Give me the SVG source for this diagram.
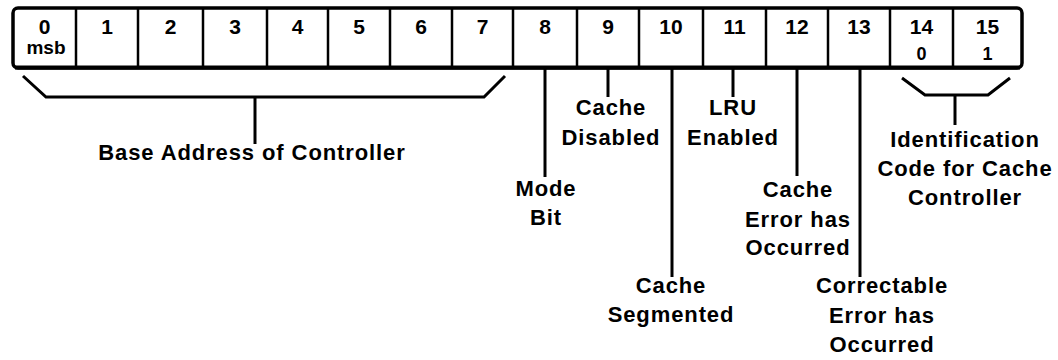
<svg xmlns="http://www.w3.org/2000/svg" width="1058" height="360" viewBox="0 0 1058 360">
<style>
text{font-family:"Liberation Sans",Arial,sans-serif;font-weight:bold;fill:#000;text-anchor:middle}
.num{font-size:21px}
.sub{font-size:18px}
.lbl{font-size:22px;letter-spacing:0.9px}
.div{stroke:#000;stroke-width:2.5}
.ln{stroke:#000;stroke-width:3;fill:none;stroke-linejoin:miter}
</style>
<rect width="1058" height="360" fill="#fff"/>
<g id="register">
<rect x="13" y="8" width="1009" height="60" rx="5" fill="#fff" stroke="#000" stroke-width="3.5"/>
<line x1="15" y1="67.5" x2="1020" y2="67.5" stroke="#000" stroke-width="4"/>
<g class="div">
<line x1="76" y1="8" x2="76" y2="68"/><line x1="138" y1="8" x2="138" y2="68"/><line x1="203" y1="8" x2="203" y2="68"/><line x1="267" y1="8" x2="267" y2="68"/><line x1="328" y1="8" x2="328" y2="68"/><line x1="390" y1="8" x2="390" y2="68"/><line x1="452" y1="8" x2="452" y2="68"/><line x1="513" y1="8" x2="513" y2="68"/><line x1="577" y1="8" x2="577" y2="68"/><line x1="639" y1="8" x2="639" y2="68"/><line x1="703" y1="8" x2="703" y2="68"/><line x1="766" y1="8" x2="766" y2="68"/><line x1="828" y1="8" x2="828" y2="68"/><line x1="890" y1="8" x2="890" y2="68"/><line x1="953" y1="8" x2="953" y2="68"/>
</g>
<g class="num">
<text x="44.5" y="34">0</text><text x="107" y="34">1</text><text x="170.5" y="34">2</text><text x="235" y="34">3</text><text x="297.5" y="34">4</text><text x="359" y="34">5</text><text x="421" y="34">6</text><text x="482.5" y="34">7</text><text x="545" y="34">8</text><text x="608" y="34">9</text><text x="671" y="34">10</text><text x="734.5" y="34">11</text><text x="797" y="34">12</text><text x="859" y="34">13</text><text x="921.5" y="34">14</text><text x="987.5" y="34">15</text>
</g>
<text class="sub" x="46" y="54" style="font-size:19px">msb</text>
<text class="sub" x="921.5" y="60">0</text>
<text class="sub" x="987.5" y="60">1</text>
</g>
<g id="connectors" class="ln">
<polyline points="23,76 46,97 484,97 505,76"/>
<line x1="255" y1="97" x2="255" y2="144"/>
<line x1="545" y1="68" x2="545" y2="177"/>
<line x1="608" y1="68" x2="608" y2="97"/>
<line x1="672" y1="68" x2="672" y2="277"/>
<line x1="733" y1="68" x2="733" y2="97"/>
<line x1="797" y1="68" x2="797" y2="176"/>
<line x1="860" y1="68" x2="860" y2="277"/>
<polyline points="902,78 925,95 988,95 1010,78"/>
<line x1="955" y1="95" x2="955" y2="125"/>
</g>
<g id="label-base"><text class="lbl" x="252" y="160">Base Address of Controller</text></g>
<g id="label-mode"><text class="lbl" x="546" y="196">Mode</text><text class="lbl" x="546" y="225">Bit</text></g>
<g id="label-disabled"><text class="lbl" x="611" y="115">Cache</text><text class="lbl" x="611" y="145">Disabled</text></g>
<g id="label-segmented"><text class="lbl" x="671" y="293">Cache</text><text class="lbl" x="671" y="322">Segmented</text></g>
<g id="label-lru"><text class="lbl" x="733" y="115">LRU</text><text class="lbl" x="733" y="145">Enabled</text></g>
<g id="label-error"><text class="lbl" x="798" y="197">Cache</text><text class="lbl" x="798" y="227">Error has</text><text class="lbl" x="798" y="255">Occurred</text></g>
<g id="label-correctable"><text class="lbl" x="882" y="293">Correctable</text><text class="lbl" x="882" y="323">Error has</text><text class="lbl" x="882" y="352">Occurred</text></g>
<g id="label-id"><text class="lbl" x="965" y="147">Identification</text><text class="lbl" x="965" y="176">Code for Cache</text><text class="lbl" x="965" y="205">Controller</text></g>
</svg>
